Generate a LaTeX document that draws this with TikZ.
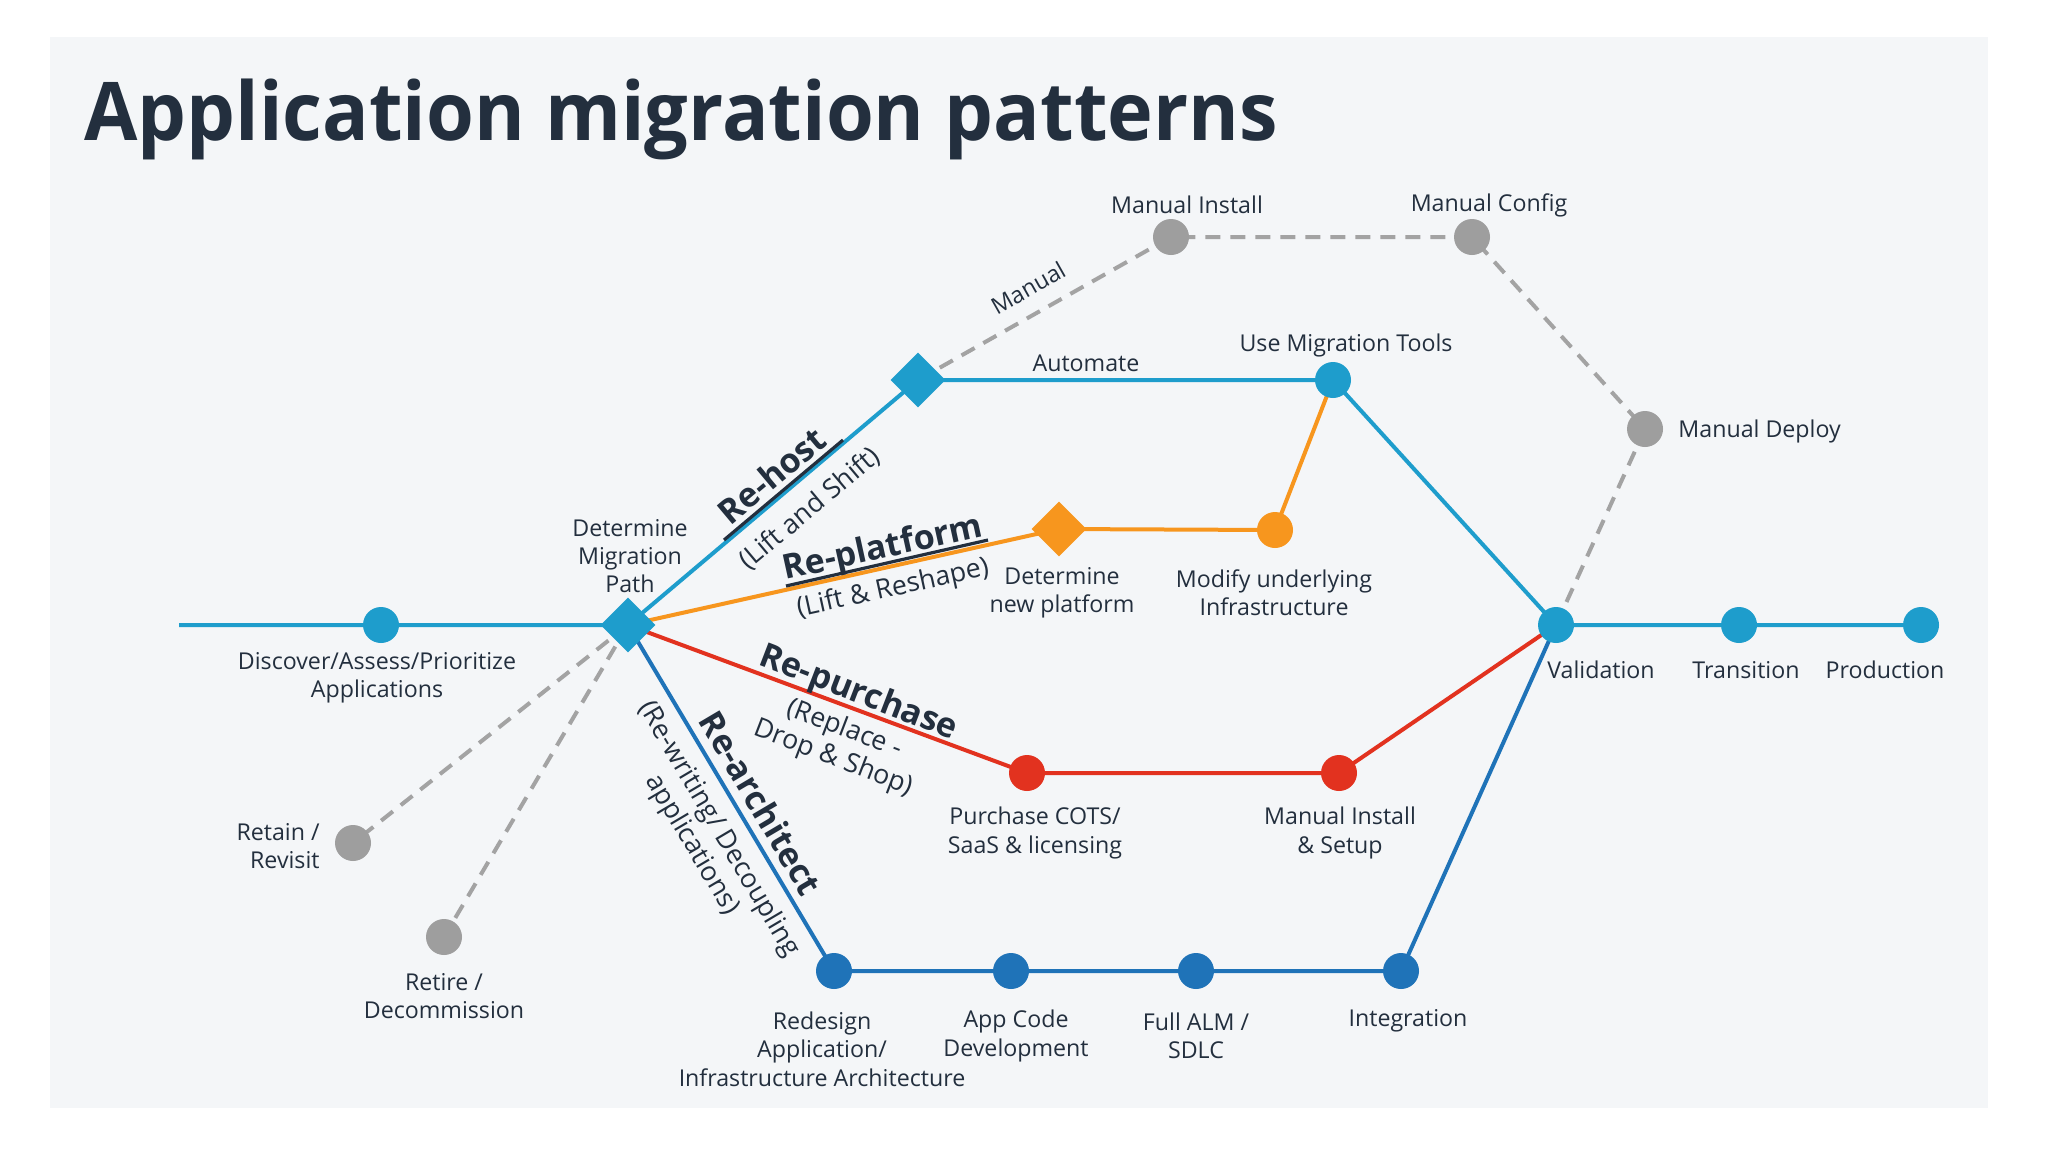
\documentclass[tikz,border=0pt]{standalone}
\usepackage{fontspec}
\setmainfont{Open Sans}
\usetikzlibrary{shapes.geometric}
\definecolor{ink}{HTML}{232F3E}
\definecolor{cteal}{HTML}{1E9DCC}
\definecolor{corange}{HTML}{F7961E}
\definecolor{cred}{HTML}{E2321F}
\definecolor{cblue}{HTML}{1F73B8}
\definecolor{cgray}{HTML}{9E9E9E}
\definecolor{cdash}{HTML}{A3A3A3}
\definecolor{panel}{HTML}{F4F6F8}
\pgfdeclarelayer{bg}
\pgfdeclarelayer{lines}
\pgfsetlayers{bg,lines,main}
\tikzset{
  dot/.style={circle, minimum size=18pt, inner sep=0pt, fill=#1},
  dia/.style={diamond, minimum size=27.5pt, inner sep=0pt, fill=#1},
  lbl/.style={text=ink, font=\fontsize{11.6}{14.2}\selectfont, align=center, inner sep=0pt},
  conn/.style={line width=2pt, draw=#1, line join=round},
  dashline/.style={line width=2pt, draw=cdash, dash pattern=on 7.5pt off 5pt},
  big/.style={font=\fontsize{17}{20}\selectfont\bfseries, text=ink, inner sep=0pt},
  sub/.style={font=\fontsize{13.4}{15.5}\selectfont, text=ink, inner sep=0pt, align=center},
  uline/.style={line width=1.6pt, draw=ink}
}
\begin{document}
\begin{tikzpicture}[x=0.5pt, y=-0.5pt]
\useasboundingbox (0,0) rectangle (2048,1152);
\begin{pgfonlayer}{bg}
  \fill[white] (0,0) rectangle (2048,1152);
  \fill[panel] (50,37) rectangle (1988,1108);
\end{pgfonlayer}

% title
\node[anchor=base west, font=\fontsize{40.5}{48}\selectfont\bfseries, text=ink, inner sep=0pt] (title) at (84,140) {\scalebox{0.955}[1]{Application migration patterns}};

% nodes
\coordinate (start) at (179,625);
\node[dot=cteal] (disc) at (381,625) {};
\node[dia=cteal] (det) at (628,625) {};
\node[dia=cteal] (rh) at (918,380) {};
\node[dot=cgray] (mi) at (1171,237) {};
\node[dot=cgray] (mc) at (1472,237) {};
\node[dot=cgray] (md) at (1645,429) {};
\node[dot=cteal] (umt) at (1333,380) {};
\node[dia=corange] (rp) at (1059,529) {};
\node[dot=corange] (mod) at (1275,530) {};
\node[dot=cteal] (val) at (1556,625) {};
\node[dot=cteal] (tra) at (1739,625) {};
\node[dot=cteal] (prod) at (1921,625) {};
\node[dot=cred] (pc) at (1027,773) {};
\node[dot=cred] (mis) at (1339,773) {};
\node[dot=cblue] (rd) at (834,971) {};
\node[dot=cblue] (acd) at (1011,971) {};
\node[dot=cblue] (alm) at (1196,971) {};
\node[dot=cblue] (int) at (1401,971) {};
\node[dot=cgray] (ret) at (353,843) {};
\node[dot=cgray] (rtr) at (444,937) {};

% connectors
\begin{pgfonlayer}{lines}
  \draw[conn=cteal] (start) -- (disc.center) -- (det.center) -- (rh.center) -- (umt.center) -- (val.center) -- (tra.center) -- (prod.center);
  \draw[conn=corange] (det.center) -- (rp.center) -- (mod.center) -- (umt.center);
  \draw[conn=cred] (det.center) -- (pc.center) -- (mis.center) -- (val.center);
  \draw[conn=cblue] (det.center) -- (rd.center) -- (acd.center) -- (alm.center) -- (int.center) -- (val.center);
  \draw[dashline] (rh.center) -- (mi.center) -- (mc.center) -- (md.center) -- (val.center);
  \draw[dashline] (det.center) -- (ret.center);
  \draw[dashline] (det.center) -- (rtr.center);
\end{pgfonlayer}

% underlines
\draw[uline] (724,540) -- (843,440);
\draw[uline] (786,586) -- (988,540);

% path labels
\node[big, anchor=base, rotate=40] (lrh) at (780,485) {Re-host};
\node[sub, rotate=40] (lrhs) at (810,509) {(Lift and Shift)};
\node[big, anchor=base, rotate=12.4] (lrp) at (885,558) {Re-platform};
\node[sub, rotate=12.4] (lrps) at (893,589) {(Lift \& Reshape)};
\node[big, rotate=-21] (lpu) at (858,694) {Re-purchase};
\node[sub, rotate=-21] (lpus) at (839,744) {(Replace -\\Drop \& Shop)};
\node[big, rotate=-59.4] (lra) at (761,803) {Re-architect};
\node[sub, rotate=-59.4] (lras) at (705,837) {(Re-writing/ Decoupling\\applications)};
\node[lbl, rotate=29.5] (lman) at (1028,288) {Manual};
\node[lbl] (laut) at (1086,363) {Automate};

% node labels
\node[lbl] at (377,678) {Discover/Assess/Prioritize\\Applications};
\node[lbl, align=right, anchor=east] at (320,846) {Retain /\\Revisit};
\node[lbl] at (444,996) {Retire /\\Decommission};
\node[lbl] at (630,556) {Determine\\Migration\\Path};
\node[lbl] at (1187,205) {Manual Install};
\node[lbl] at (1489,205) {Manual Config};
\node[lbl] at (1346,345) {Use Migration Tools};
\node[lbl, anchor=west] at (1678,431) {Manual Deploy};
\node[lbl] at (1062,593) {Determine\\new platform};
\node[lbl] at (1274,593) {Modify underlying\\Infrastructure};
\node[lbl] at (1601,670) {Validation};
\node[lbl] at (1746,670) {Transition};
\node[lbl] at (1885,670) {Production};
\node[lbl] at (1035,833) {Purchase COTS/\\SaaS \& licensing};
\node[lbl] at (1340,833) {Manual Install\\\& Setup};
\node[lbl] at (822,1049) {Redesign\\Application/\\Infrastructure Architecture};
\node[lbl] at (1016,1036) {App Code\\Development};
\node[lbl] at (1196,1036) {Full ALM /\\SDLC};
\node[lbl] at (1408,1021) {Integration};
\end{tikzpicture}
\end{document}
